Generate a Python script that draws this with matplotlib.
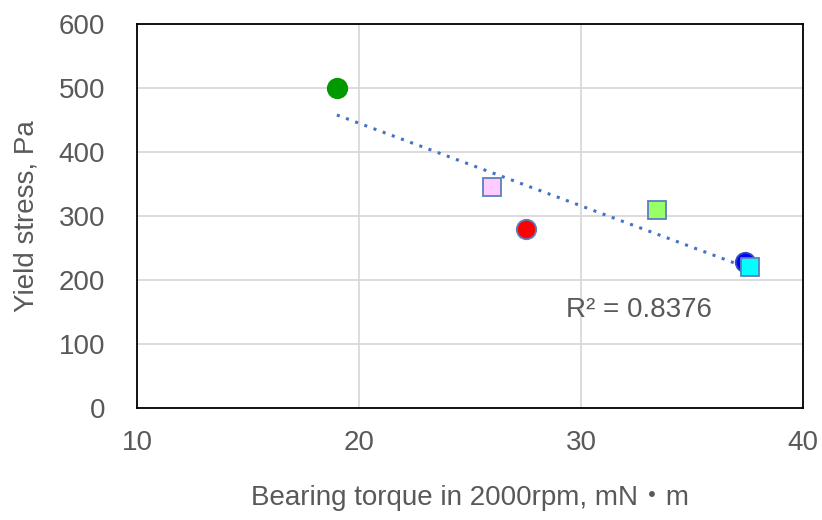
import numpy as np
import matplotlib
matplotlib.use("Agg")
import matplotlib.pyplot as plt

plt.rcParams["font.family"] = ["Liberation Sans", "Noto Sans CJK JP", "DejaVu Sans"]

# Data
torque = [19.0, 26.0, 27.5, 33.4, 37.4, 37.6]
yield_stress = [500, 345, 280, 310, 228, 220]
markers = ["o", "s", "o", "s", "o", "s"]
face_colors = ["#009900", "#FFCCFF", "#FF0000", "#99FF66", "#0000FF", "#00FFFF"]
edge_colors = ["#009900", "#5B7FC0", "#5B7FC0", "#5B7FC0", "#2E4FC0", "#5B7FC0"]
r2_label = "R² = 0.8376"

x_ticks = [10, 20, 30, 40]
y_ticks = [0, 100, 200, 300, 400, 500, 600]

text_color = "#595959"

fig = plt.figure(figsize=(8.22, 5.2), dpi=100)
ax = fig.add_axes([0.1667, 0.2154, 0.8103, 0.7386])

# Linear trendline
coef = np.polyfit(torque, yield_stress, 1)
xs = np.array([min(torque), max(torque)])
ax.plot(xs, np.polyval(coef, xs), linestyle=(0, (1, 2.2)), color="#4472C4",
        linewidth=2.2, zorder=2)

for x, y, m, fc, ec in zip(torque, yield_stress, markers, face_colors, edge_colors):
    ax.plot(x, y, marker=m, markersize=14 if m == "o" else 13.5,
            markerfacecolor=fc, markeredgecolor=ec, markeredgewidth=1.3,
            linestyle="none", zorder=3)

ax.text(29.3, 142, r2_label, fontsize=20, color=text_color, va="baseline")

ax.set_xlim(10, 40)
ax.set_ylim(0, 600)
ax.set_xticks(x_ticks)
ax.set_yticks(y_ticks)
ax.grid(True, color="#D9D9D9", linewidth=1.3)
ax.set_axisbelow(True)
for s in ax.spines.values():
    s.set_color("black")
    s.set_linewidth(1.3)
ax.tick_params(axis="y", length=0, labelsize=20, labelcolor=text_color, pad=23)
ax.tick_params(axis="x", length=0, labelsize=20, labelcolor=text_color, pad=16)

ax.set_xlabel("Bearing torque in 2000rpm, mN\u30fbm", fontsize=20,
              color=text_color, labelpad=21)
ax.set_ylabel("Yield stress, Pa", fontsize=20, color=text_color, labelpad=14)

fig.savefig("out.png", dpi=100)
